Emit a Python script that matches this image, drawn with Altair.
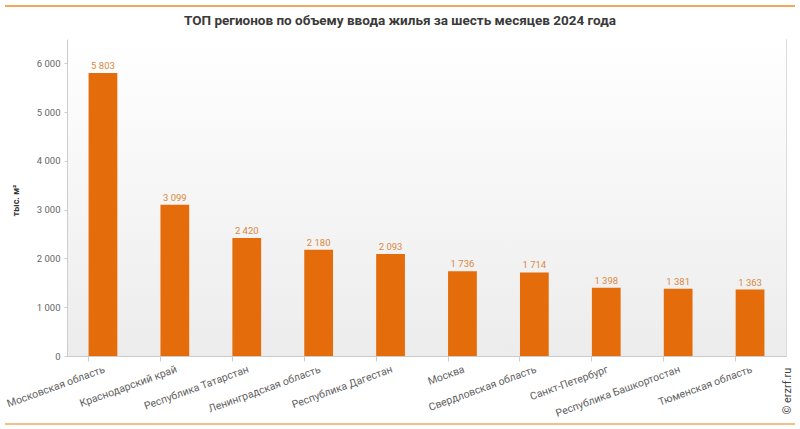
import altair as alt
import pandas as pd

regions = ["Московская область", "Краснодарский край", "Республика Татарстан",
           "Ленинградская область", "Республика Дагестан", "Москва",
           "Свердловская область", "Санкт-Петербург", "Республика Башкортостан",
           "Тюменская область"]
values = [5803, 3099, 2420, 2180, 2093, 1736, 1714, 1398, 1381, 1363]
title_text = "ТОП регионов по объему ввода жилья за шесть месяцев 2024 года"

df = pd.DataFrame({"region": regions, "value": values})

W, H = 719, 317
FONT = "Roboto"

bg = alt.Chart(pd.DataFrame({"a": [0]})).mark_rect(
    color=alt.Gradient(gradient="linear", x1=0, x2=0, y1=0, y2=1,
                       stops=[alt.GradientStop(color="#ffffff", offset=0),
                              alt.GradientStop(color="#ececec", offset=1)])
).encode(x=alt.value(0), x2=alt.value(W), y=alt.value(0), y2=alt.value(H))

xenc = alt.X("region:N", sort=regions, title=None,
             scale=alt.Scale(paddingInner=0.6, paddingOuter=0.3),
             axis=alt.Axis(labelAngle=-20, labelAlign="right", labelBaseline="top",
                           labelFont=FONT, labelFontSize=10.5, labelColor="#606060",
                           labelPadding=3, bandPosition=0, tickSize=5, zindex=1,
                           tickColor="#cccccc", domainColor="#cccccc", labelLimit=300))
yenc = alt.Y("value:Q", title="тыс. м²",
             scale=alt.Scale(domain=[0, 6500], nice=False),
             axis=alt.Axis(values=[0, 1000, 2000, 3000, 4000, 5000, 6000],
                           labelExpr="replace(format(datum.value, ','), ',', ' ')",
                           labelFont=FONT, labelFontSize=9.5, labelColor="#666666",
                           tickSize=3, tickColor="#cccccc", domainColor="#cccccc",
                           labelPadding=4, grid=False, zindex=1,
                           titleFont=FONT, titleFontSize=9, titleFontWeight="bold",
                           titleColor="#333333", titleX=-47, titleY=161))

bars = alt.Chart(df).mark_bar(color="#E46C0A").encode(x=xenc, y=yenc)

labels = alt.Chart(df).transform_calculate(
    lbl="replace(format(datum.value, ','), ',', ' ')"
).mark_text(font=FONT, fontSize=9.5, color="#D9893F", dy=-7).encode(
    x=alt.X("region:N", sort=regions), y="value:Q", text="lbl:N")

top_line = alt.Chart(pd.DataFrame({"a": [0]})).mark_rule(
    color="#F0A860", strokeWidth=2).encode(
    x=alt.value(-62), x2=alt.value(728), y=alt.value(-33))
bot_line = alt.Chart(pd.DataFrame({"a": [0]})).mark_rule(
    color="#F0A860", strokeWidth=1.5).encode(
    x=alt.value(-62), x2=alt.value(728), y=alt.value(385))

title = alt.Chart(pd.DataFrame({"t": [title_text]})).mark_text(
    font=FONT, fontSize=13.5, fontWeight="bold", color="#3a3a3a",
    align="center", baseline="middle").encode(
    x=alt.value(333), y=alt.value(-18), text="t:N")

copy = alt.Chart(pd.DataFrame({"t": ["© erzrf.ru"]})).mark_text(
    font=FONT, fontSize=11, color="#444444", angle=270).encode(
    x=alt.value(721), y=alt.value(352), text="t:N")

chart = alt.layer(bg, bars, labels, top_line, bot_line, title, copy).properties(
    width=W, height=H,
    autosize=alt.AutoSizeParams(type="none"),
    padding={"left": 67, "top": 39, "right": 14, "bottom": 73},
).configure_view(stroke=None).configure(background="white")

chart.save("out.html", embed_options={"renderer": "svg", "actions": False})
